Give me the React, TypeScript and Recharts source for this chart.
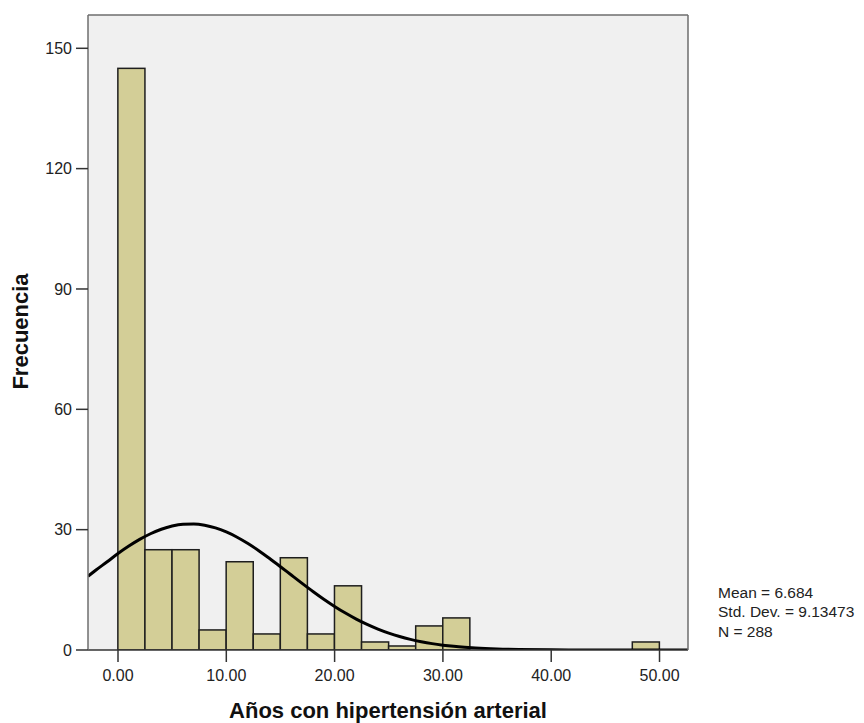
import React from 'react';
import { ComposedChart, Bar, Line, XAxis, YAxis, CartesianGrid } from 'recharts';

// histogram bins (lower edge of each 2.5-year bin) and counts
const binStarts = [0, 2.5, 5, 7.5, 10, 12.5, 15, 17.5, 20, 22.5, 25, 27.5, 30, 47.5];
const binCounts = [145, 25, 25, 5, 22, 4, 23, 4, 16, 2, 1, 6, 8, 2];
const BIN_WIDTH = 2.5;

// normal curve
const curveX = [-2.77, -2, -1, 0, 1, 2, 3, 4, 5, 6, 7, 8, 9, 10, 11, 12, 13, 14, 15, 16, 17, 18, 19, 20, 21, 22, 23, 24, 25, 26, 27, 28, 29, 30, 31, 32, 33, 35, 37, 40, 44, 48, 52.63];
const curveY = [18.4, 20.0, 22.0, 24.05, 25.9, 27.57, 28.98, 30.11, 30.91, 31.35, 31.42, 31.12, 30.45, 29.43, 28.12, 26.54, 24.76, 22.81, 20.77, 18.69, 16.62, 14.6, 12.67, 10.87, 9.21, 7.71, 6.38, 5.21, 4.21, 3.36, 2.65, 2.07, 1.59, 1.21, 0.91, 0.68, 0.5, 0.26, 0.13, 0.04, 0.003, 0, 0];

const xTicks = [0, 10, 20, 30, 40, 50];
const yTicks = [0, 30, 60, 90, 120, 150];
const stats = ['Mean = 6.684', 'Std. Dev. = 9.13473', 'N = 288'];

const X_MIN = -2.77;
const X_MAX = 52.63;
const Y_MAX = 158.3;

const W = 856;
const H = 715;
const PLOT_LEFT = 80;
const PLOT_TOP = 7;
const PLOT_RIGHT = 680;
const PLOT_BOTTOM = 642;
const PX_PER_UNIT = (PLOT_RIGHT - PLOT_LEFT) / (X_MAX - X_MIN);

const bins = binStarts.map((lo, i) => ({ x: lo + BIN_WIDTH / 2, count: binCounts[i] }));
const curve = curveX.map((x, i) => ({ x, y: curveY[i] }));

const FONT = '"Liberation Sans", Arial, sans-serif';

const BinShape = (props: any) => {
  const { x, width, y, height } = props;
  if (!height) return null;
  const cx = x + width / 2;
  const half = (BIN_WIDTH / 2) * PX_PER_UNIT;
  return (
    <rect
      x={cx - half}
      y={y}
      width={half * 2}
      height={height}
      fill="#d3ce97"
      stroke="#1e1e1e"
      strokeWidth={1.5}
    />
  );
};

export default function App() {
  return (
    <div style={{ position: 'relative', width: W, height: H, fontFamily: FONT }}>
      <ComposedChart
        width={W}
        height={H}
        data={bins}
        margin={{ top: PLOT_TOP, right: W - PLOT_RIGHT, bottom: 0, left: 0 }}
      >
        <CartesianGrid horizontal={false} vertical={false} fill="#f0f0f0" />
        <XAxis
          dataKey="x"
          type="number"
          domain={[X_MIN, X_MAX]}
          ticks={xTicks}
          allowDataOverflow
          tickFormatter={(v: number) => v.toFixed(2)}
          height={H - PLOT_BOTTOM}
          tickSize={12}
          tickMargin={8}
          axisLine={{ stroke: '#333', strokeWidth: 1.5 }}
          tickLine={{ stroke: '#333', strokeWidth: 1.5 }}
          tick={{ fill: '#222', fontSize: 16, fontFamily: FONT }}
        />
        <YAxis
          type="number"
          domain={[0, Y_MAX]}
          ticks={yTicks}
          allowDataOverflow
          width={PLOT_LEFT}
          tickSize={12}
          tickMargin={4}
          axisLine={{ stroke: '#6e6e6e', strokeWidth: 1.5 }}
          tickLine={{ stroke: '#333', strokeWidth: 1.5 }}
          tick={{ fill: '#222', fontSize: 16, fontFamily: FONT }}
        />
        <Bar dataKey="count" barSize={10} shape={BinShape} isAnimationActive={false} />
        <Line
          data={curve}
          dataKey="y"
          type="monotone"
          stroke="#000"
          strokeWidth={3}
          dot={false}
          activeDot={false}
          isAnimationActive={false}
        />
      </ComposedChart>
      <svg
        width={W}
        height={H}
        style={{ position: 'absolute', left: 0, top: 0, pointerEvents: 'none' }}
      >
        <line x1={PLOT_LEFT} y1={PLOT_TOP} x2={PLOT_RIGHT} y2={PLOT_TOP} stroke="#6e6e6e" strokeWidth={1.5} />
        <line x1={PLOT_RIGHT} y1={PLOT_TOP} x2={PLOT_RIGHT} y2={PLOT_BOTTOM} stroke="#6e6e6e" strokeWidth={1.5} />
        <text
          x={380}
          y={710}
          textAnchor="middle"
          fontFamily={FONT}
          fontWeight="bold"
          fontSize={22}
          fill="#111"
        >
          Años con hipertensión arterial
        </text>
        <text
          x={20}
          y={323.5}
          transform="rotate(-90 20 323.5)"
          textAnchor="middle"
          fontFamily={FONT}
          fontWeight="bold"
          fontSize={22}
          fill="#111"
        >
          Frecuencia
        </text>
        {stats.map((s, i) => (
          <text key={s} x={710} y={590 + i * 19.3} fontFamily={FONT} fontSize={15.5} fill="#222">
            {s}
          </text>
        ))}
      </svg>
    </div>
  );
}
